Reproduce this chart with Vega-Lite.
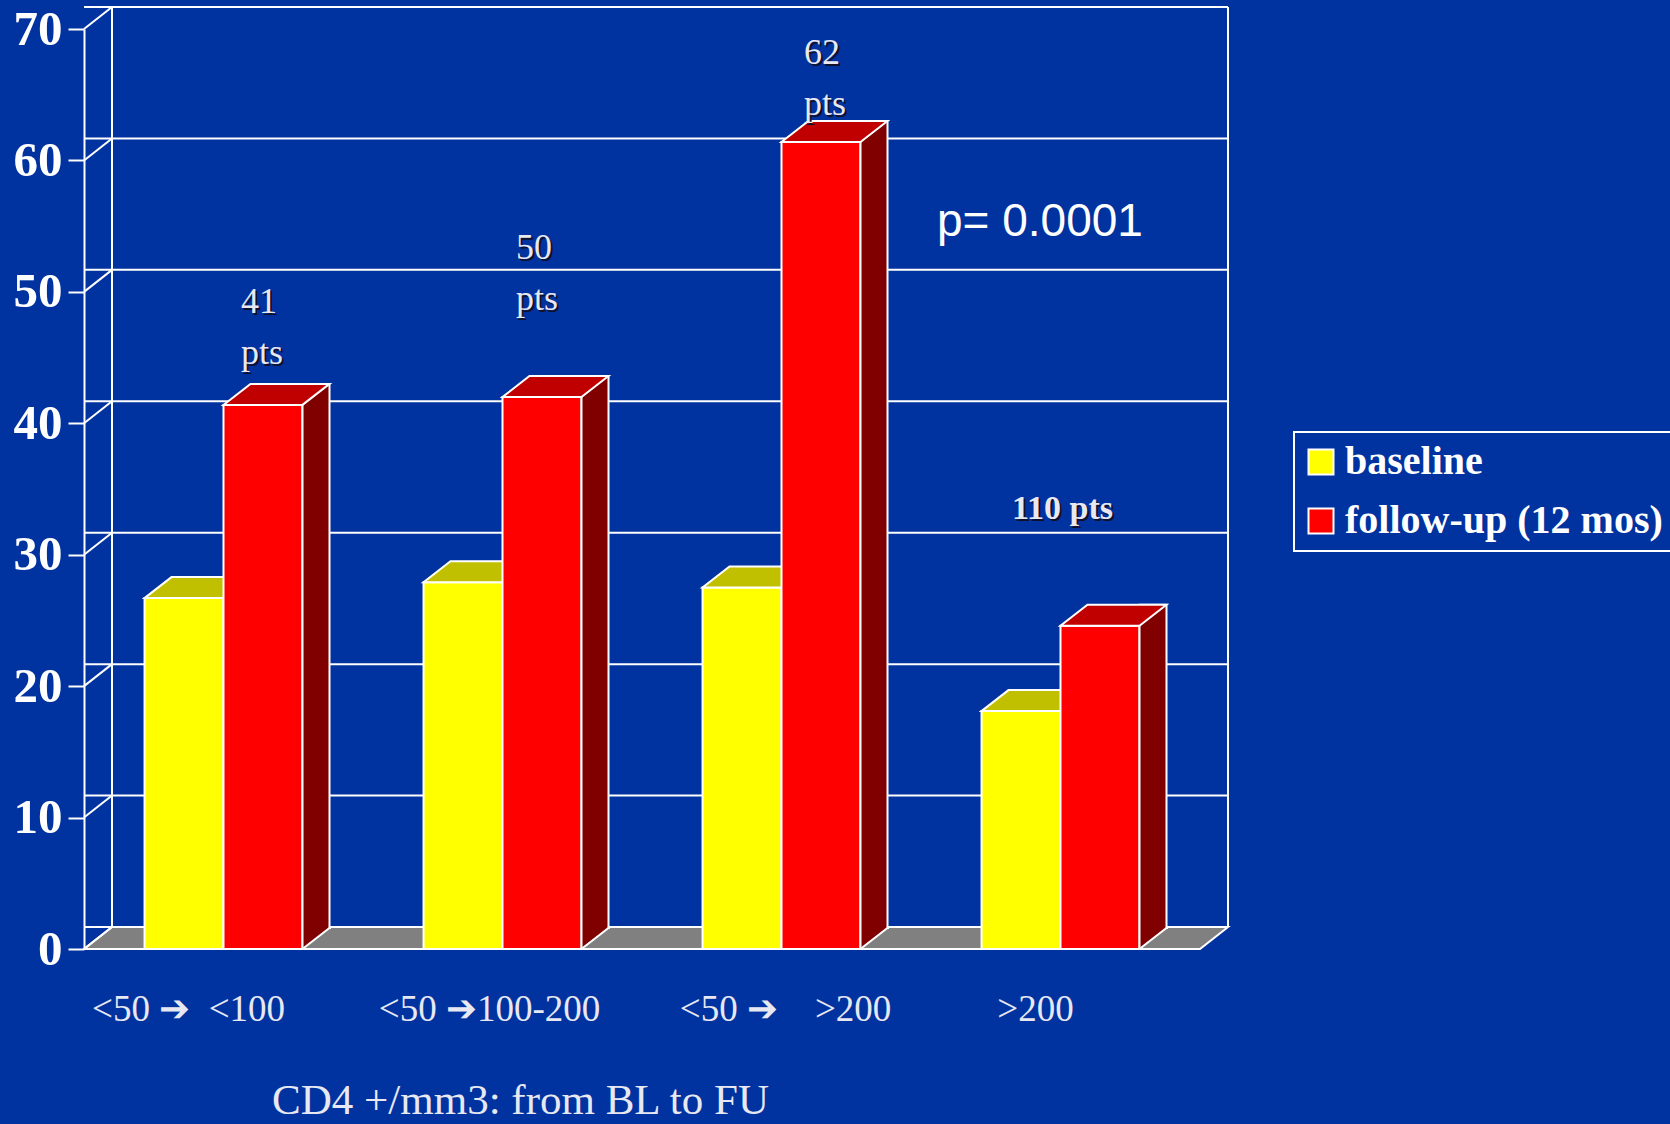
{
  "$schema": "https://vega.github.io/schema/vega-lite/v6.json",
  "width": 1116,
  "height": 920,
  "autosize": {"type": "none"},
  "padding": {"left": 84, "top": 29, "right": 470, "bottom": 175},
  "background": "#0033a0",
  "config": {
    "view": {"stroke": null},
    "axis": {"domainColor": "white", "domainWidth": 2, "tickColor": "white", "tickWidth": 2, "grid": false},
    "legend": {"strokeWidth": 2, "fillColor": null}
  },
  "datasets": {
    "bars": [
      {"cat": "<50 ➔\u00a0\u00a0<100", "series": "baseline", "value": 26.7},
      {"cat": "<50 ➔\u00a0\u00a0<100", "series": "follow-up (12 mos)", "value": 41.4},
      {"cat": "<50 ➔100-200", "series": "baseline", "value": 27.9},
      {"cat": "<50 ➔100-200", "series": "follow-up (12 mos)", "value": 42.0},
      {"cat": "<50 ➔\u00a0\u00a0\u00a0\u00a0>200", "series": "baseline", "value": 27.5},
      {"cat": "<50 ➔\u00a0\u00a0\u00a0\u00a0>200", "series": "follow-up (12 mos)", "value": 61.4},
      {"cat": ">200", "series": "baseline", "value": 18.1},
      {"cat": ">200", "series": "follow-up (12 mos)", "value": 24.6}
    ],
    "ticks": [
      {"tick": 0}, {"tick": 10}, {"tick": 20}, {"tick": 30},
      {"tick": 40}, {"tick": 50}, {"tick": 60}, {"tick": 70}
    ]
  },
  "layer": [
    {
      "data": {"name": "ticks"},
      "layer": [
        {
          "transform": [{"filter": "datum.tick === 0"}],
          "mark": {"type": "point", "shape": "M0,0L2,0L2.0502,-0.0394L0.0502,-0.0394Z", "size": 1245456, "filled": true, "fill": "#808080", "stroke": "white", "strokeWidth": 2, "opacity": 1},
          "encoding": {
            "x": {"datum": 0, "type": "quantitative", "scale": {"domain": [0, 1], "nice": false, "zero": false}, "axis": null},
            "y": {"datum": 0, "type": "quantitative", "scale": {"domain": [0, 70], "nice": false}, "title": null}
          }
        },
        {
          "mark": {"type": "rule", "color": "white", "strokeWidth": 2, "xOffset": 28, "x2Offset": 28, "yOffset": -22},
          "encoding": {
            "y": {"field": "tick", "type": "quantitative", "title": null}
          }
        },
        {
          "mark": {"type": "rule", "color": "white", "strokeWidth": 2, "x2Offset": 28, "y2Offset": -22},
          "encoding": {
            "x": {"datum": 0, "type": "quantitative", "axis": null},
            "x2": {"datum": 0},
            "y": {"field": "tick", "type": "quantitative", "title": null},
            "y2": {"field": "tick"}
          }
        },
        {
          "transform": [{"filter": "datum.tick === 0"}],
          "mark": {"type": "rule", "color": "white", "strokeWidth": 2, "xOffset": 28, "yOffset": -22, "y2Offset": -22},
          "encoding": {
            "x": {"datum": 0, "type": "quantitative", "axis": null},
            "y": {"datum": 0, "type": "quantitative", "title": null},
            "y2": {"datum": 70}
          }
        },
        {
          "transform": [{"filter": "datum.tick === 0"}],
          "mark": {"type": "rule", "color": "white", "strokeWidth": 2, "xOffset": 28, "yOffset": -22, "y2Offset": -22},
          "encoding": {
            "x": {"datum": 1, "type": "quantitative", "axis": null},
            "y": {"datum": 0, "type": "quantitative", "title": null},
            "y2": {"datum": 70}
          }
        }
      ]
    },
    {
      "data": {"name": "bars"},
      "layer": [
        {
          "transform": [{"filter": "datum.series === 'baseline'"}],
          "mark": {"type": "bar", "stroke": "white", "strokeWidth": 2, "opacity": 1},
          "encoding": {
            "x": {
              "field": "cat", "type": "nominal", "sort": null,
              "title": "CD4 +/mm3: from BL to FU",
              "scale": {"domain": ["<50 ➔\u00a0\u00a0<100", "<50 ➔100-200", "<50 ➔\u00a0\u00a0\u00a0\u00a0>200", ">200"], "paddingInner": 0.434, "paddingOuter": 0.217},
              "axis": {
                "title": "CD4 +/mm3: from BL to FU", "domain": false, "ticks": false, "tickSize": 0,
                "labelAngle": 0, "labelFont": "Liberation Serif", "labelFontSize": 37, "labelColor": "#e8e8f2",
                "labelPadding": 71, "labelBaseline": "alphabetic", "labelLimit": 500,
                "labelOverlap": false, "labelFlush": false,
                "labelOffset": {
                  "condition": [
                    {"test": "indexof(datum.value, '<100') >= 0", "value": -35},
                    {"test": "indexof(datum.value, '<50') >= 0 && indexof(datum.value, '>200') >= 0", "value": 4},
                    {"test": "datum.value === '>200'", "value": -25}
                  ],
                  "value": -13
                },
                "titleFont": "Liberation Serif", "titleFontSize": 43, "titleFontWeight": "normal", "titleColor": "#e8e8f2",
                "titleX": 436, "titleY": 164, "titleAlign": "center", "titleBaseline": "alphabetic", "zindex": 1
              }
            },
            "xOffset": {"field": "series", "type": "nominal", "scale": {"domain": ["baseline", "follow-up (12 mos)"], "paddingInner": 0, "paddingOuter": 0}},
            "y": {
              "field": "value", "type": "quantitative", "scale": {"domain": [0, 70], "nice": false},
              "axis": {
                "values": [0, 10, 20, 30, 40, 50, 60, 70], "title": null, "labelFont": "Liberation Serif",
                "labelFontWeight": "bold", "labelFontSize": 49, "labelColor": "white", "tickSize": 16,
                "labelPadding": 6, "domain": true, "grid": false, "zindex": 1
              }
            },
            "color": {
              "field": "series", "type": "nominal",
              "scale": {"domain": ["baseline", "follow-up (12 mos)"], "range": ["#ffff00", "#ff0000"]},
              "legend": {
                "orient": "none", "legendX": 1210, "legendY": 403, "title": null, "strokeColor": "white",
                "padding": 10, "symbolOffset": -3, "symbolType": "square", "symbolSize": 625, "symbolStrokeColor": "white",
                "symbolStrokeWidth": 2, "symbolOpacity": 1, "labelFont": "Liberation Serif", "labelFontWeight": "bold",
                "labelFontSize": 40, "labelColor": "white", "labelOffset": 4, "rowPadding": 19, "labelLimit": 600
              }
            }
          }
        },
        {
          "transform": [{"filter": "datum.series === 'baseline'"}],
          "mark": {"type": "point", "shape": "M-0.395,0L0.395,0L0.665,-0.21L-0.125,-0.21Z", "size": 40000, "filled": true, "fill": "#c0c000", "stroke": "white", "strokeWidth": 2, "opacity": 1},
          "encoding": {
            "x": {"field": "cat", "type": "nominal"},
            "xOffset": {"field": "series", "type": "nominal"},
            "y": {"field": "value", "type": "quantitative", "title": null}
          }
        },
        {
          "transform": [{"filter": "datum.series === 'follow-up (12 mos)'"}],
          "mark": {"type": "bar", "stroke": "white", "strokeWidth": 2, "opacity": 1},
          "encoding": {
            "x": {"field": "cat", "type": "nominal"},
            "xOffset": {"field": "series", "type": "nominal"},
            "y": {"field": "value", "type": "quantitative", "title": null},
            "color": {"field": "series", "type": "nominal", "title": null}
          }
        },
        {
          "transform": [{"filter": "datum.series === 'follow-up (12 mos)'"}],
          "mark": {"type": "bar", "width": 27, "xOffset": 92.5, "yOffset": -21, "fill": "#800000", "stroke": "white", "strokeWidth": 2, "opacity": 1},
          "encoding": {
            "x": {"field": "cat", "type": "nominal"},
            "y": {"field": "value", "type": "quantitative", "title": null},
            "y2": {"datum": 0}
          }
        },
        {
          "transform": [{"filter": "datum.series === 'follow-up (12 mos)'"}],
          "mark": {"type": "point", "shape": "M-0.395,0L0.395,0L0.665,-0.21L-0.125,-0.21Z", "size": 40000, "filled": true, "fill": "#c00000", "stroke": "white", "strokeWidth": 2, "opacity": 1},
          "encoding": {
            "x": {"field": "cat", "type": "nominal"},
            "xOffset": {"field": "series", "type": "nominal"},
            "y": {"field": "value", "type": "quantitative", "title": null}
          }
        },
        {
          "transform": [{"filter": "datum.series === 'follow-up (12 mos)'"}],
          "mark": {"type": "point", "shape": "M0.68,-0.21L0.665,-0.21L0.395,0L0.68,0", "size": 40000, "filled": true, "fill": "#808080", "stroke": "white", "strokeWidth": 2, "opacity": 1},
          "encoding": {
            "x": {"field": "cat", "type": "nominal"},
            "xOffset": {"field": "series", "type": "nominal"},
            "y": {"datum": 0, "type": "quantitative", "title": null}
          }
        },
        {
          "transform": [{"filter": "indexof(datum.cat, '<100') >= 0 && datum.series === 'baseline'"}],
          "mark": {"type": "text", "align": "left", "baseline": "alphabetic", "dx": 19.5, "dy": 2, "font": "Liberation Serif", "fontSize": 36, "lineHeight": 51, "fill": "#101028"},
          "encoding": {
            "x": {"field": "cat", "type": "nominal"},
            "y": {"datum": 48.4, "type": "quantitative", "title": null},
            "text": {"value": ["41", "pts"]}
          }
        },
        {
          "transform": [{"filter": "indexof(datum.cat, '<100') >= 0 && datum.series === 'baseline'"}],
          "mark": {"type": "text", "align": "left", "baseline": "alphabetic", "dx": 17.5, "font": "Liberation Serif", "fontSize": 36, "lineHeight": 51, "fill": "#e8e8f2"},
          "encoding": {
            "x": {"field": "cat", "type": "nominal"},
            "y": {"datum": 48.4, "type": "quantitative", "title": null},
            "text": {"value": ["41", "pts"]}
          }
        },
        {
          "transform": [{"filter": "indexof(datum.cat, '100-200') >= 0 && datum.series === 'baseline'"}],
          "mark": {"type": "text", "align": "left", "baseline": "alphabetic", "dx": 15.5, "dy": 2, "font": "Liberation Serif", "fontSize": 36, "lineHeight": 51, "fill": "#101028"},
          "encoding": {
            "x": {"field": "cat", "type": "nominal"},
            "y": {"datum": 52.5, "type": "quantitative", "title": null},
            "text": {"value": ["50", "pts"]}
          }
        },
        {
          "transform": [{"filter": "indexof(datum.cat, '100-200') >= 0 && datum.series === 'baseline'"}],
          "mark": {"type": "text", "align": "left", "baseline": "alphabetic", "dx": 13.5, "font": "Liberation Serif", "fontSize": 36, "lineHeight": 51, "fill": "#e8e8f2"},
          "encoding": {
            "x": {"field": "cat", "type": "nominal"},
            "y": {"datum": 52.5, "type": "quantitative", "title": null},
            "text": {"value": ["50", "pts"]}
          }
        },
        {
          "transform": [{"filter": "indexof(datum.cat, '<50') >= 0 && indexof(datum.cat, '>200') >= 0 && datum.series === 'baseline'"}],
          "mark": {"type": "text", "align": "left", "baseline": "alphabetic", "dx": 24.5, "dy": 2, "font": "Liberation Serif", "fontSize": 36, "lineHeight": 51, "fill": "#101028"},
          "encoding": {
            "x": {"field": "cat", "type": "nominal"},
            "y": {"datum": 67.3, "type": "quantitative", "title": null},
            "text": {"value": ["62", "pts"]}
          }
        },
        {
          "transform": [{"filter": "indexof(datum.cat, '<50') >= 0 && indexof(datum.cat, '>200') >= 0 && datum.series === 'baseline'"}],
          "mark": {"type": "text", "align": "left", "baseline": "alphabetic", "dx": 22.5, "font": "Liberation Serif", "fontSize": 36, "lineHeight": 51, "fill": "#e8e8f2"},
          "encoding": {
            "x": {"field": "cat", "type": "nominal"},
            "y": {"datum": 67.3, "type": "quantitative", "title": null},
            "text": {"value": ["62", "pts"]}
          }
        },
        {
          "transform": [{"filter": "datum.cat === '>200' && datum.series === 'baseline'"}],
          "mark": {"type": "text", "align": "left", "baseline": "alphabetic", "dx": -46.5, "dy": 2, "font": "Liberation Serif", "fontSize": 34, "fontWeight": "bold", "fill": "#101028"},
          "encoding": {
            "x": {"field": "cat", "type": "nominal"},
            "y": {"datum": 32.7, "type": "quantitative", "title": null},
            "text": {"value": "110 pts"}
          }
        },
        {
          "transform": [{"filter": "datum.cat === '>200' && datum.series === 'baseline'"}],
          "mark": {"type": "text", "align": "left", "baseline": "alphabetic", "dx": -48.5, "font": "Liberation Serif", "fontSize": 34, "fontWeight": "bold", "fill": "#e8e8f2"},
          "encoding": {
            "x": {"field": "cat", "type": "nominal"},
            "y": {"datum": 32.7, "type": "quantitative", "title": null},
            "text": {"value": "110 pts"}
          }
        },
        {
          "transform": [{"filter": "datum.cat === '>200' && datum.series === 'baseline'"}],
          "mark": {"type": "text", "align": "left", "baseline": "alphabetic", "dx": -123.5, "font": "Liberation Sans", "fontSize": 46, "fill": "white"},
          "encoding": {
            "x": {"field": "cat", "type": "nominal"},
            "y": {"datum": 54.25, "type": "quantitative", "title": null},
            "text": {"value": "p= 0.0001"}
          }
        }
      ]
    }
  ],
  "resolve": {"scale": {"x": "independent"}}
}
